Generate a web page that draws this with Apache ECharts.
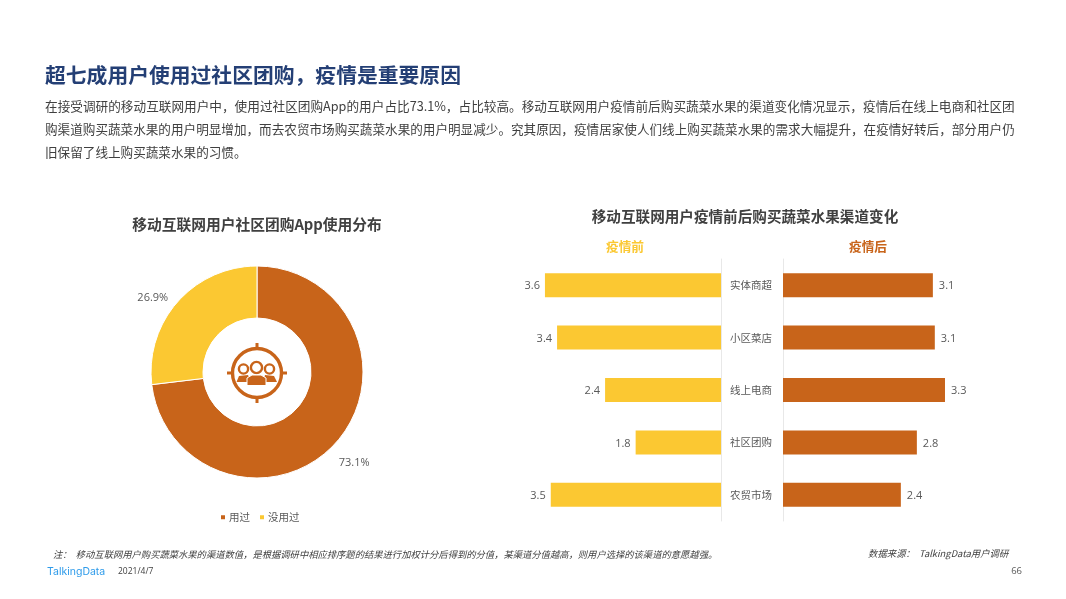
<!DOCTYPE html>
<html>
<head>
<meta charset="utf-8">
<style>html,body{margin:0;padding:0;background:#fff}#main{width:1066px;height:599px}</style>
<script src="https://cdn.jsdelivr.net/npm/echarts@6/dist/echarts.min.js"></script>
</head>
<body>
<div id="main"></div>
<script>
var font = '"Noto Sans CJK SC","Open Sans",sans-serif';
var latinFont = '"Open Sans",sans-serif';
var orange = '#c8641a';
var yellow = '#fbc832';
var grayText = '#595959';

//pie data
var pieNames = ['用过', '没用过'];
var pieValues = [73.1, 26.9];

//bar data
var channels = ['实体商超', '小区菜店', '线上电商', '社区团购', '农贸市场'];
var beforeValues = [3.63, 3.38, 2.39, 1.76, 3.51];
var afterValues = [3.09, 3.13, 3.34, 2.76, 2.43];

var bodyLines = [
  '在接受调研的移动互联网用户中，使用过社区团购App的用户占比73.1%，占比较高。移动互联网用户疫情前后购买蔬菜水果的渠道变化情况显示，疫情后在线上电商和社区团',
  '购渠道购买蔬菜水果的用户明显增加，而去农贸市场购买蔬菜水果的用户明显减少。究其原因，疫情居家使人们线上购买蔬菜水果的需求大幅提升，在疫情好转后，部分用户仍',
  '旧保留了线上购买蔬菜水果的习惯。'
];

function text(x, y, str, fontStr, color, align) {
  return {
    type: 'text', x: x, y: y, silent: true,
    style: {text: str, font: fontStr, fill: color, align: align || 'left', verticalAlign: 'middle'}
  };
}

var graphics = [
  text(45, 75, '超七成用户使用过社区团购，疫情是重要原因', 'bold 20.8px ' + font, '#243f75'),
  text(45, 106, bodyLines[0], '12.65px ' + font, '#404040'),
  text(45, 129, bodyLines[1], '12.6px ' + font, '#404040'),
  text(45, 152, bodyLines[2], '12.6px ' + font, '#404040'),
  text(257, 224, '移动互联网用户社区团购App使用分布', 'bold 14.75px ' + font, '#404040', 'center'),
  text(745, 216, '移动互联网用户疫情前后购买蔬菜水果渠道变化', 'bold 14.6px ' + font, '#404040', 'center'),
  text(625, 246, '疫情前', 'bold 12.7px ' + font, yellow, 'center'),
  text(868, 246, '疫情后', 'bold 12.7px ' + font, orange, 'center'),
  text(53, 554, '注：  移动互联网用户购买蔬菜水果的渠道数值，是根据调研中相应排序题的结果进行加权计分后得到的分值，某渠道分值越高，则用户选择的该渠道的意愿越强。', 'italic 9.3px ' + font, '#404040'),
  text(868, 553, '数据来源：  TalkingData用户调研', 'italic 9.4px ' + font, '#404040'),
  text(47, 572, 'TalkingData', '10.5px Inter,sans-serif', '#2e9bea'),
  text(118, 572, '2021/4/7', '8.5px ' + latinFont, '#404040'),
  text(1022, 571, '66', '9.5px ' + latinFont, grayText, 'right'),
  //icon in the middle of the donut
  {type: 'group', x: 257, y: 373, silent: true, children: [
    {type: 'circle', shape: {cx: 0, cy: 0, r: 24.5}, style: {fill: 'none', stroke: orange, lineWidth: 3.4}},
    {type: 'rect', shape: {x: -1.5, y: -30, width: 3, height: 7}, style: {fill: orange}},
    {type: 'rect', shape: {x: -1.5, y: 23, width: 3, height: 7}, style: {fill: orange}},
    {type: 'rect', shape: {x: -30, y: -1.5, width: 7, height: 3}, style: {fill: orange}},
    {type: 'rect', shape: {x: 23, y: -1.5, width: 7, height: 3}, style: {fill: orange}},
    {type: 'circle', shape: {cx: -13.5, cy: -4, r: 4.6}, style: {fill: '#fff', stroke: orange, lineWidth: 2.4}},
    {type: 'circle', shape: {cx: 12.5, cy: -4, r: 4.6}, style: {fill: '#fff', stroke: orange, lineWidth: 2.4}},
    {type: 'polygon', shape: {points: [[-20.5, 9], [-18, 3], [-9, 2], [-6, 9]]}, style: {fill: orange}},
    {type: 'polygon', shape: {points: [[6, 9], [8, 2], [17, 3], [20, 9]]}, style: {fill: orange}},
    {type: 'circle', shape: {cx: -0.5, cy: -5.5, r: 5.6}, style: {fill: '#fff', stroke: orange, lineWidth: 2.4}},
    {type: 'polygon', shape: {points: [[-10, 12.5], [-10, 5], [-5, 2], [4, 2], [9, 5], [9, 12.5]]},
      style: {fill: orange, stroke: '#fff', lineWidth: 1}}
  ]}
];

var chart = echarts.init(document.getElementById('main'), null, {renderer: 'canvas'});
chart.setOption({
  animation: false,
  textStyle: {fontFamily: font},
  color: [orange, yellow],
  graphic: graphics,
  legend: {
    data: pieNames, left: 214, top: 507, itemWidth: 6, itemHeight: 6, itemGap: 8, icon: 'rect',
    textStyle: {fontSize: 10.5, color: grayText, padding: [0, 0, 0, -2]}
  },
  grid: [
    {left: 527, width: 194, top: 259, height: 262},
    {left: 783, width: 194, top: 259, height: 262}
  ],
  xAxis: [
    {gridIndex: 0, type: 'value', min: 0, max: 4, inverse: true, show: false},
    {gridIndex: 1, type: 'value', min: 0, max: 4, show: false}
  ],
  yAxis: [
    {gridIndex: 0, type: 'category', inverse: true, data: channels, position: 'right',
      axisTick: {show: false}, axisLabel: {show: false},
      axisLine: {lineStyle: {color: '#e8e8e8', width: 1}}},
    {gridIndex: 1, type: 'category', inverse: true, data: channels, position: 'left',
      axisTick: {show: false},
      axisLabel: {align: 'center', margin: 32, fontSize: 10.5, color: grayText},
      axisLine: {lineStyle: {color: '#e8e8e8', width: 1}}}
  ],
  series: [
    {
      type: 'pie', center: [257, 372], radius: [54, 106], startAngle: 90, silent: true,
      data: pieNames.map(function (n, i) { return {name: n, value: pieValues[i]}; }),
      itemStyle: {borderColor: '#fff', borderWidth: 1},
      labelLine: {show: false, length: 2, length2: 0},
      label: {position: 'outside', formatter: '{c}%', fontSize: 11, color: grayText, fontFamily: latinFont},
      labelLayout: function (p) {
        return p.dataIndex === 0 ? {dx: -4, dy: 19} : {dx: -3, dy: -2};
      }
    },
    {
      type: 'bar', xAxisIndex: 0, yAxisIndex: 0, data: beforeValues, barWidth: 24, silent: true,
      itemStyle: {color: yellow},
      label: {show: true, position: 'left', distance: 5, offset: [0, 1], fontSize: 11, color: grayText,
        fontFamily: latinFont,
        formatter: function (p) { return p.value.toFixed(1); }}
    },
    {
      type: 'bar', xAxisIndex: 1, yAxisIndex: 1, data: afterValues, barWidth: 24, silent: true,
      itemStyle: {color: orange},
      label: {show: true, position: 'right', distance: 6, offset: [0, 1], fontSize: 11, color: grayText,
        fontFamily: latinFont,
        formatter: function (p) { return p.value.toFixed(1); }}
    }
  ]
});
</script>
</body>
</html>
